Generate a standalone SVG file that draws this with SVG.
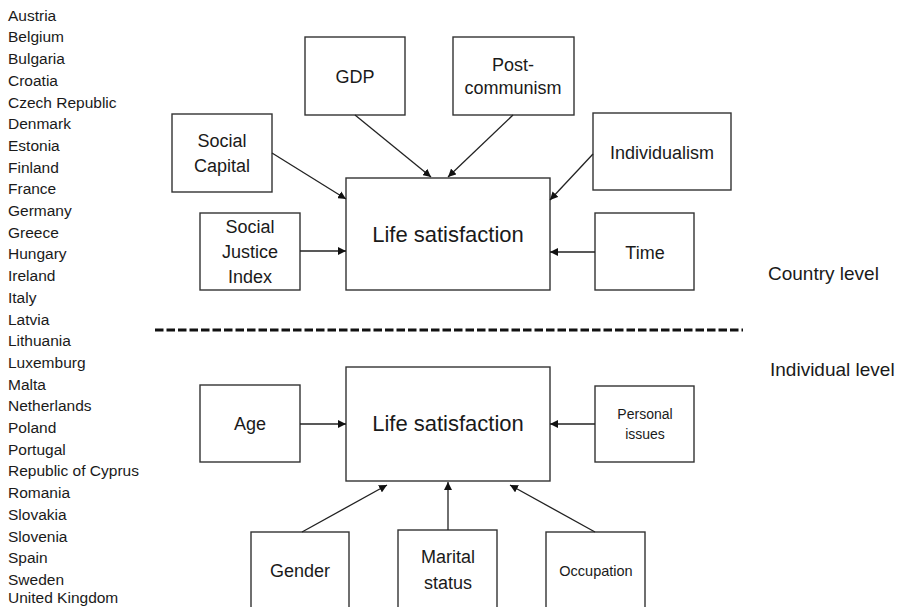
<svg xmlns="http://www.w3.org/2000/svg" width="901" height="607" viewBox="0 0 901 607">
<defs>
<style>
.box{fill:#fff;stroke:#333;stroke-width:1.4}
.t{font-family:"Liberation Sans",Arial,sans-serif;fill:#1a1a1a;text-anchor:middle}
.c{font-family:"Liberation Sans",Arial,sans-serif;fill:#1a1a1a;font-size:15.5px}
.lbl{font-size:18px}
.big{font-size:22px}
.sm{font-size:14px}
.edge{stroke:#222;stroke-width:1.3;fill:none;marker-end:url(#ah)}
</style>
<marker id="ah" viewBox="0 0 10 10" refX="10" refY="5" markerWidth="8" markerHeight="8" markerUnits="userSpaceOnUse" orient="auto">
<path d="M0,0 L10,5 L0,10 z" fill="#111"/>
</marker>
</defs>
<rect width="901" height="607" fill="#fff"/>
<g id="countries" class="c">
<text x="8" y="20.7">Austria</text>
<text x="8" y="42.4">Belgium</text>
<text x="8" y="64.1">Bulgaria</text>
<text x="8" y="85.8">Croatia</text>
<text x="8" y="107.5">Czech Republic</text>
<text x="8" y="129.2">Denmark</text>
<text x="8" y="150.9">Estonia</text>
<text x="8" y="172.6">Finland</text>
<text x="8" y="194.3">France</text>
<text x="8" y="216">Germany</text>
<text x="8" y="237.7">Greece</text>
<text x="8" y="259.4">Hungary</text>
<text x="8" y="281.1">Ireland</text>
<text x="8" y="302.8">Italy</text>
<text x="8" y="324.5">Latvia</text>
<text x="8" y="346.2">Lithuania</text>
<text x="8" y="367.9">Luxemburg</text>
<text x="8" y="389.6">Malta</text>
<text x="8" y="411.3">Netherlands</text>
<text x="8" y="433">Poland</text>
<text x="8" y="454.7">Portugal</text>
<text x="8" y="476.4">Republic of Cyprus</text>
<text x="8" y="498.1">Romania</text>
<text x="8" y="519.8">Slovakia</text>
<text x="8" y="541.5">Slovenia</text>
<text x="8" y="563.2">Spain</text>
<text x="8" y="584.9">Sweden</text>
<text x="8" y="603">United Kingdom</text>
</g>
<g id="gdp"><rect class="box" x="305" y="37" width="100" height="78"/><text class="t lbl" x="355" y="83">GDP</text></g>
<g id="postcommunism"><rect class="box" x="453" y="37" width="121" height="78"/><text class="t lbl" x="513" y="71">Post-</text><text class="t lbl" x="513" y="94">communism</text></g>
<g id="socialcapital"><rect class="box" x="172" y="114" width="100" height="78"/><text class="t lbl" x="222" y="147">Social</text><text class="t lbl" x="222" y="172">Capital</text></g>
<g id="individualism"><rect class="box" x="593" y="113" width="138" height="77"/><text class="t lbl" x="662" y="159">Individualism</text></g>
<g id="socialjustice"><rect class="box" x="200" y="213" width="100" height="77"/><text class="t lbl" x="250" y="233">Social</text><text class="t lbl" x="250" y="258">Justice</text><text class="t lbl" x="250" y="283">Index</text></g>
<g id="lifesat-country"><rect class="box" x="346" y="178" width="204" height="112"/><text class="t big" x="448" y="242">Life satisfaction</text></g>
<g id="time"><rect class="box" x="595" y="213" width="99" height="77"/><text class="t lbl" x="645" y="259">Time</text></g>
<g id="levels">
<text class="c" x="768" y="280" style="font-size:19px">Country level</text>
<text class="c" x="770" y="376" style="font-size:19px">Individual level</text>
<line x1="155" y1="330" x2="743" y2="330" stroke="#111" stroke-width="3" stroke-dasharray="8.5 3"/>
</g>
<g id="age"><rect class="box" x="200" y="385" width="100" height="77"/><text class="t lbl" x="250" y="430">Age</text></g>
<g id="lifesat-individual"><rect class="box" x="346" y="367" width="204" height="114"/><text class="t big" x="448" y="431">Life satisfaction</text></g>
<g id="personal"><rect class="box" x="595" y="386" width="99" height="76"/><text class="t sm" x="645" y="419">Personal</text><text class="t sm" x="645" y="439">issues</text></g>
<g id="gender"><rect class="box" x="251" y="532" width="98" height="80"/><text class="t lbl" x="300" y="577">Gender</text></g>
<g id="marital"><rect class="box" x="398" y="530" width="99" height="82"/><text class="t lbl" x="448" y="563">Marital</text><text class="t lbl" x="448" y="589">status</text></g>
<g id="occupation"><rect class="box" x="546" y="532" width="99" height="80"/><text class="t sm" x="596" y="576" style="font-size:14.5px">Occupation</text></g>
<g id="connectors">
<line class="edge" x1="272" y1="153" x2="346" y2="199"/>
<line class="edge" x1="355" y1="115" x2="431" y2="177"/>
<line class="edge" x1="513" y1="115" x2="448" y2="177"/>
<line class="edge" x1="593" y1="154" x2="550" y2="200"/>
<line class="edge" x1="300" y1="251" x2="346" y2="251"/>
<line class="edge" x1="595" y1="252" x2="550" y2="252"/>
<line class="edge" x1="300" y1="424" x2="346" y2="424"/>
<line class="edge" x1="595" y1="424" x2="550" y2="424"/>
<line class="edge" x1="302" y1="532" x2="387" y2="485"/>
<line class="edge" x1="448" y1="530" x2="448" y2="482"/>
<line class="edge" x1="595" y1="532" x2="510" y2="485"/>
</g>
</svg>
